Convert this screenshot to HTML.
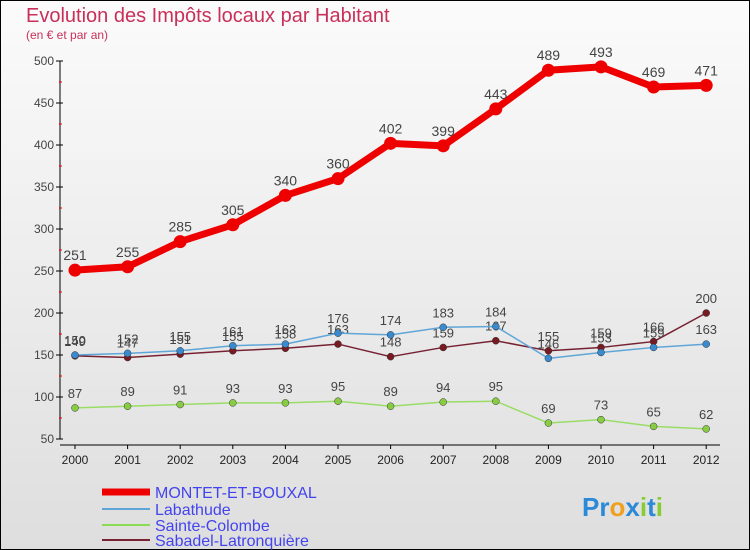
<!DOCTYPE html>
<html><head><meta charset="utf-8"><style>
body{margin:0}
svg{display:block;font-family:"Liberation Sans",sans-serif}
</style></head><body>
<svg width="750" height="550">
<defs><linearGradient id="bg" x1="0" y1="0" x2="0" y2="1"><stop offset="0" stop-color="#fbfbfb"/><stop offset="1" stop-color="#dedede"/></linearGradient></defs>
<rect x="0.5" y="0.5" width="749" height="549" fill="url(#bg)" stroke="#000"/>
<text x="26" y="22" font-size="20" fill="#c8305a">Evolution des Impôts locaux par Habitant</text>
<text x="26" y="39" font-size="12" fill="#c8305a">(en € et par an)</text>
<g id="axes"></g>
<g id="series"></g>
<g font-size="16">
<line x1="102" y1="492" x2="150" y2="492" stroke="#ee0000" stroke-width="7"/>
<text x="155" y="498" fill="#4444ee">MONTET-ET-BOUXAL</text>
<line x1="102" y1="509" x2="150" y2="509" stroke="#5fa6d8" stroke-width="2"/>
<text x="155" y="515" fill="#4444ee">Labathude</text>
<line x1="102" y1="525" x2="150" y2="525" stroke="#88dd55" stroke-width="2"/>
<text x="155" y="531" fill="#4444ee">Sainte-Colombe</text>
<line x1="102" y1="540" x2="150" y2="540" stroke="#772233" stroke-width="2"/>
<text x="155" y="546" fill="#4444ee">Sabadel-Latronquière</text>
</g>
<text x="582" y="516" font-size="26" font-weight="bold"><tspan fill="#2a8ad8">Pr</tspan><tspan fill="#f0a020">o</tspan><tspan fill="#2a8ad8">x</tspan><tspan fill="#88cc33">i</tspan><tspan fill="#2a8ad8">t</tspan><tspan fill="#88cc33">i</tspan></text>
</svg>
<script>
const years=["2000","2001","2002","2003","2004","2005","2006","2007","2008","2009","2010","2011","2012"];
const yTicks=[50,100,150,200,250,300,350,400,450,500];
const montet=[251,255,285,305,340,360,402,399,443,489,493,469,471];
const labathude=[150,152,155,161,163,176,174,183,184,146,153,159,163];
const sainte=[87,89,91,93,93,95,89,94,95,69,73,65,62];
const sabadel=[149,147,151,155,158,163,148,159,167,155,159,166,200];
const NS="http://www.w3.org/2000/svg";
const X=i=>75+i*52.6;
const Y=v=>439-(v-50)*(378/450);
function mk(t,a,p){const e=document.createElementNS(NS,t);for(const k in a)e.setAttribute(k,a[k]);p.appendChild(e);return e;}
const ax=document.getElementById('axes');
const yl=mk('line',{x1:60,y1:Y(500),x2:60,y2:Y(50),stroke:'#000'},ax);


const xl=mk('line',{x1:60,y1:445,x2:720,y2:445,stroke:'#000'},ax);


yTicks.forEach(v=>{
 mk('line',{x1:56,y1:Y(v),x2:63,y2:Y(v),stroke:'#000'},ax);
 if(v<500) mk('line',{x1:59,y1:Y(v+25),x2:62,y2:Y(v+25),stroke:'#e00'},ax);
 const t=mk('text',{x:54,y:Y(v)+4,'text-anchor':'end','font-size':12,fill:'#444'},ax);t.textContent=v;
 
 
});
years.forEach((y,i)=>{
 mk('line',{x1:X(i),y1:445,x2:X(i),y2:449,stroke:'#000'},ax);
 const t=mk('text',{x:X(i),y:464,'text-anchor':'middle','font-size':12,fill:'#222'},ax);t.textContent=y;
 
 
});
const sg=document.getElementById('series');
function draw(data,color,dot,w,r,name,fs){
 const g=mk('g',{},sg);
 
 
 const pl=mk('polyline',{points:data.map((v,i)=>X(i)+','+Y(v)).join(' '),fill:'none',stroke:color,'stroke-width':w,'stroke-linejoin':'round'},g);
 
 
 data.forEach((v,i)=>{
  const c=mk('circle',{cx:X(i),cy:Y(v),r:r,fill:dot,stroke:w>3?'none':'#333','stroke-width':0.5},g);
  
  
  const t=mk('text',{x:X(i),y:Y(v)-10,'text-anchor':'middle','font-size':fs,fill:'#444'},g);t.textContent=v;
  
  
 });
}
draw(sainte,'#99dd66','#88cc44',1.5,3.5,'sainte-colombe',13);
draw(sabadel,'#772233','#771a22',1.5,3.5,'sabadel',13);
draw(labathude,'#5fa6d8','#3a8ad0',1.5,3.5,'labathude',13);
draw(montet,'#ee0000','#ee0000',7,6.5,'montet',14);
</script>
</body></html>
